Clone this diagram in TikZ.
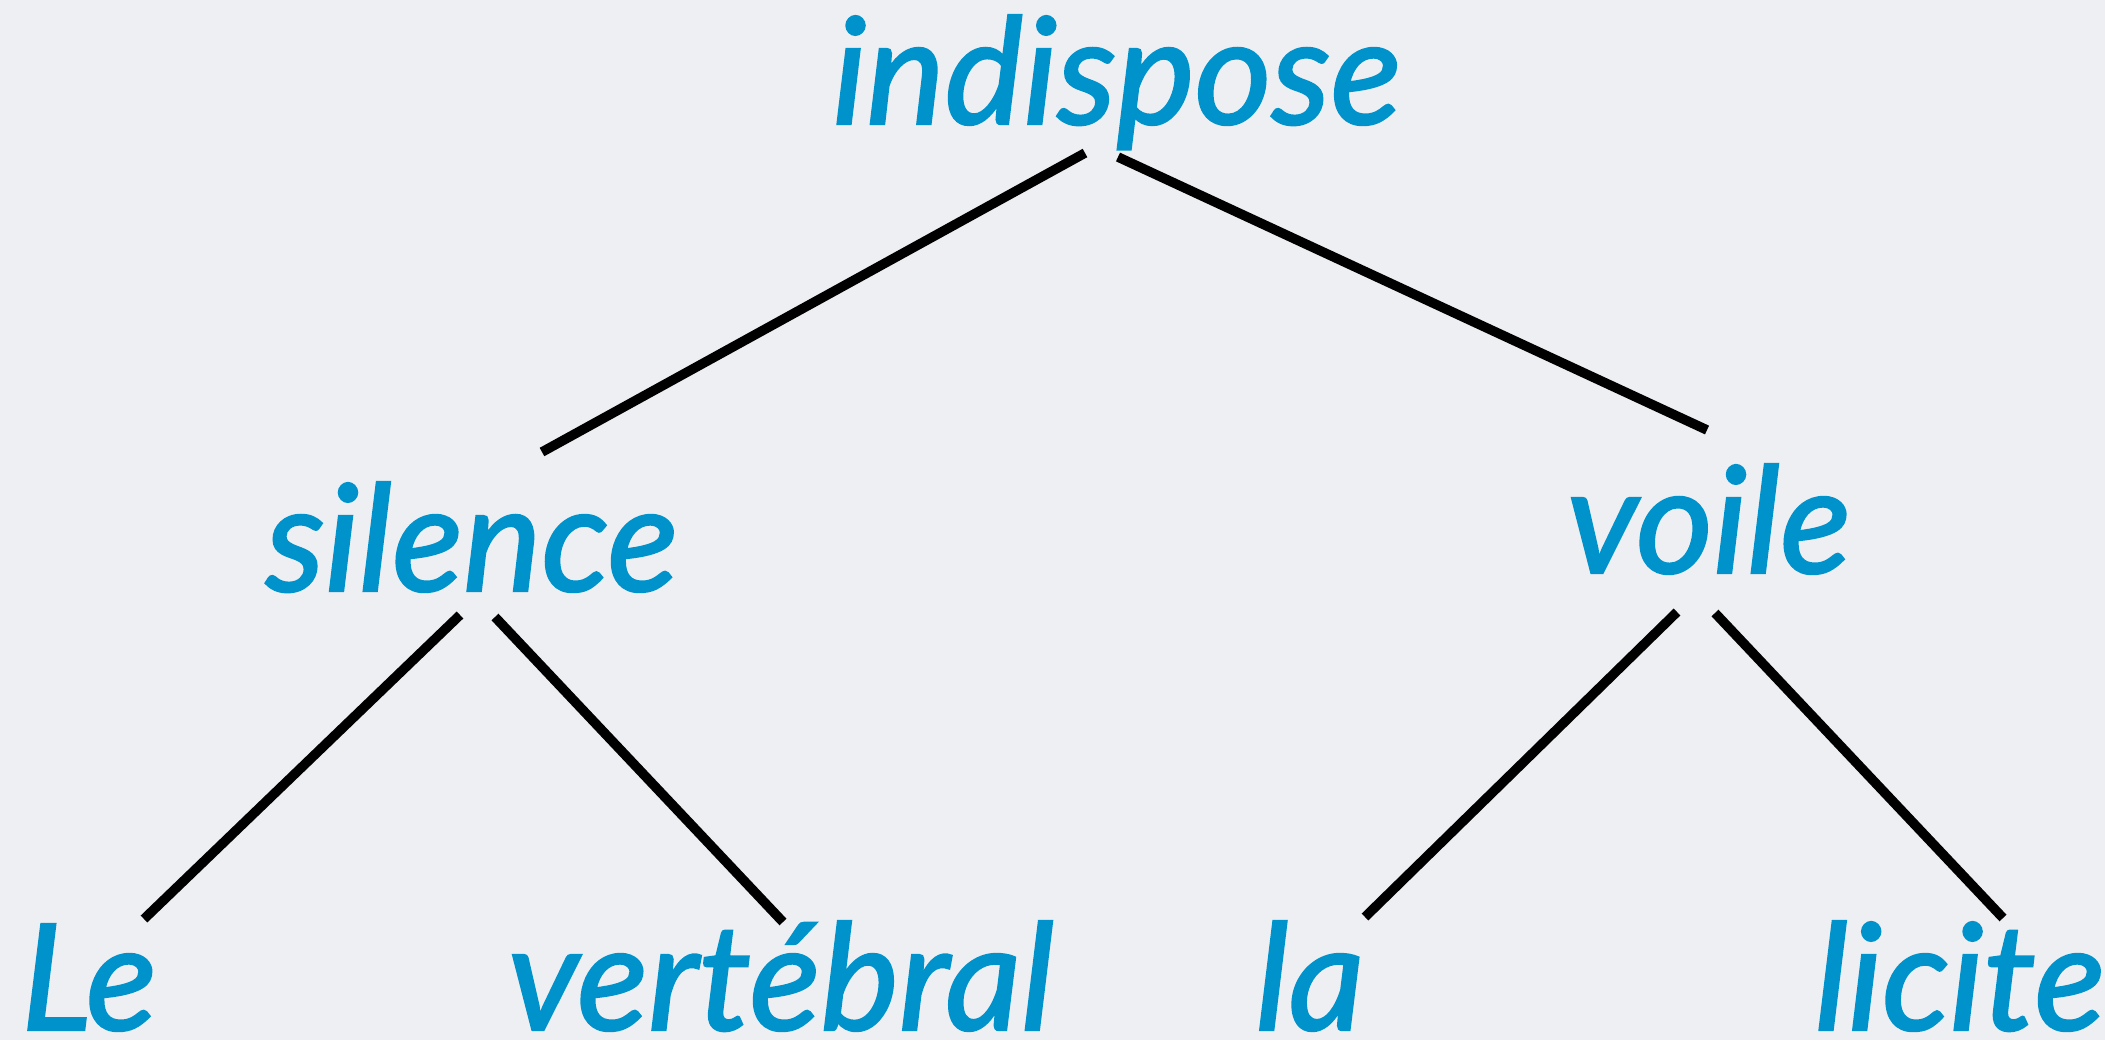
\documentclass[tikz,border=0pt]{standalone}
\usepackage{fontspec}
\setmainfont{Lato}[ItalicFeatures={FakeBold=1.6}]
\usetikzlibrary{calc}
\definecolor{wordblue}{RGB}{0,147,203}
\definecolor{slidebg}{RGB}{238,239,243}
\tikzset{
    word/.style = {anchor=base, inner sep=0pt, text=wordblue, font=\itshape\fontsize{74}{80}\selectfont},
    branch/.style = {draw=black, line width=4.8pt},
}

\begin{document}
\begin{tikzpicture}[x=0.5pt, y=-0.5pt]
\fill[slidebg] (0,0) rectangle (2105,1040);
\useasboundingbox (0,0) rectangle (2105,1040);

% words
\node[word] (root) at (1117,124) {indispose};
\node[word] (silence) at (472,591) {silence};
\node[word] (voile) at (1709,573) {voile};
\node[word] (le) at (89,1030) {Le};
\node[word] (vertebral) at (781,1030) {vertébral};
\node[word] (la) at (1310,1030) {la};
\node[word] (licite) at (1960,1030) {licite};

% branches
\draw[branch] ($(root.base)+(-32,29)$) -- ($(silence.base)+(70,-139)$);
\draw[branch] ($(root.base)+(1,33)$) -- ($(voile.base)+(-2,-143)$);
\draw[branch] ($(silence.base)+(-12,24)$) -- ($(le.base)+(55,-111)$);
\draw[branch] ($(silence.base)+(23,26)$) -- ($(vertebral.base)+(2,-108)$);
\draw[branch] ($(voile.base)+(-32,39)$) -- ($(la.base)+(55,-113)$);
\draw[branch] ($(voile.base)+(6,40)$) -- ($(licite.base)+(43,-112)$);
\end{tikzpicture}
\end{document}
